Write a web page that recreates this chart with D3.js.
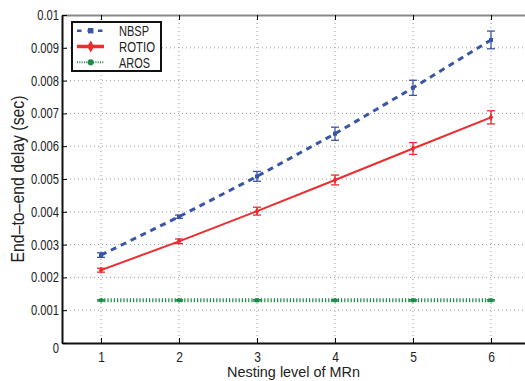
<!DOCTYPE html>
<html>
<head>
<meta charset="utf-8">
<script src="https://cdn.jsdelivr.net/npm/d3@7"></script>
<style>
  body { margin: 0; background: #fff; }
  svg { display: block; font-family: "Liberation Sans", Arial, sans-serif; }
</style>
</head>
<body>
<svg id="chart" width="525" height="381"></svg>
<script>
// chart data
const levels = [1, 2, 3, 4, 5, 6];
const nbsp = [0.00268, 0.00385, 0.00508, 0.00638, 0.00778, 0.00924];
const nbspErr = [0.00007, 0.00005, 0.00015, 0.0002, 0.00023, 0.00027];
const rotio = [0.00222, 0.0031, 0.00402, 0.00497, 0.00593, 0.00688];
const rotioErr = [0.00006, 0.00007, 0.00012, 0.00015, 0.00018, 0.0002];
const aros = [0.0013, 0.0013, 0.0013, 0.0013, 0.0013, 0.0013];
const arosErr = [0.00002, 0.00002, 0.00002, 0.00002, 0.00002, 0.00002];
const yTicks = [0, 0.001, 0.002, 0.003, 0.004, 0.005, 0.006, 0.007, 0.008, 0.009, 0.01];
const yTickLabels = ["0", "0.001", "0.002", "0.003", "0.004", "0.005", "0.006", "0.007", "0.008", "0.009", "0.01"];

const plotL = 62, plotR = 530, plotT = 15, plotB = 343;
const narrow = 0.8; // the original font is a condensed one

const svg = d3.select("#chart");

const x = d3.scaleLinear().domain([0.5, 6.5]).range([plotL, plotR]);
const y = d3.scaleLinear().domain([0, 0.01]).range([plotB, plotT]);

function squeeze(sel, k) {
  sel.each(function () {
    const w = this.getComputedTextLength();
    d3.select(this).attr("textLength", w * k).attr("lengthAdjust", "spacingAndGlyphs");
  });
}

// dotted grid
const grid = svg.append("g").attr("stroke", "#9a9a9a").attr("stroke-width", 1).attr("stroke-dasharray", "1,3");
grid.selectAll(".gx").data(levels).enter().append("line")
  .attr("x1", d => x(d)).attr("x2", d => x(d))
  .attr("y1", plotT).attr("y2", plotB);
grid.selectAll(".gy").data(yTicks.slice(1, -1)).enter().append("line")
  .attr("x1", plotL).attr("x2", plotR)
  .attr("y1", d => y(d)).attr("y2", d => y(d));

// axes
svg.append("g")
  .attr("transform", "translate(0," + plotB + ")")
  .call(d3.axisBottom(x).tickValues(levels).tickFormat(d3.format("d")).tickSizeInner(-5).tickSizeOuter(0).tickPadding(8))
  .call(g => g.select(".domain").attr("stroke-width", 2).attr("stroke", "#111"))
  .call(g => g.selectAll("text").attr("font-size", 15).attr("fill", "#222").attr("font-family", null))
  .call(g => squeeze(g.selectAll("text"), narrow));

svg.append("g")
  .attr("transform", "translate(0," + plotT + ")")
  .call(d3.axisTop(x).tickValues(levels).tickSizeInner(-5).tickSizeOuter(0).tickFormat(""))
  .call(g => g.select(".domain").attr("stroke-width", 2).attr("stroke", "#888"));

svg.append("g")
  .attr("transform", "translate(" + plotL + ",0)")
  .call(d3.axisLeft(y).tickValues(yTicks).tickSizeInner(-5).tickSizeOuter(0).tickPadding(3)
    .tickFormat((d, i) => yTickLabels[i]))
  .call(g => g.select(".domain").attr("stroke-width", 2).attr("stroke", "#111"))
  .call(g => g.selectAll("text").attr("font-size", 14).attr("fill", "#222").attr("font-family", null))
  .call(g => g.selectAll("text").filter(d => d === 0).attr("dy", "0.7em"))
  .call(g => squeeze(g.selectAll("text"), narrow));

// axis titles
svg.append("text")
  .attr("x", (plotL + 525) / 2).attr("y", 377)
  .attr("text-anchor", "middle").attr("font-size", 15).attr("fill", "#222")
  .attr("textLength", 133).attr("lengthAdjust", "spacingAndGlyphs")
  .text("Nesting level of MRn");

svg.append("text")
  .attr("transform", "translate(24," + (plotT + plotB) / 2 + ") rotate(-90)")
  .attr("text-anchor", "middle").attr("font-size", 18).attr("fill", "#222")
  .attr("textLength", 167).attr("lengthAdjust", "spacingAndGlyphs")
  .text("End\u2013to\u2013end delay (sec)");

const series = [
  {name: "NBSP", vals: nbsp, err: nbspErr, color: "#3a55a6", width: 3, dash: "6,5", marker: "square", labelW: 30},
  {name: "ROTIO", vals: rotio, err: rotioErr, color: "#ee2b2e", width: 2, dash: null, marker: "diamond", labelW: 36},
  {name: "AROS", vals: aros, err: arosErr, color: "#1e8c47", width: 4, dash: "1.2,2", marker: "circle", labelW: 31}
];

const line = d3.line().x(d => x(d[0])).y(d => y(d[1]));
const symOf = m => m === "square" ? d3.symbolSquare : m === "diamond" ? d3.symbolDiamond : d3.symbolCircle;

series.forEach(s => {
  const pts = levels.map((l, i) => [l, s.vals[i], s.err[i]]);
  const g = svg.append("g");

  // error bars
  const eb = g.selectAll(".eb").data(pts).enter().append("g").attr("stroke", s.color).attr("stroke-width", 1.3);
  eb.append("line").attr("x1", d => x(d[0])).attr("x2", d => x(d[0]))
    .attr("y1", d => y(d[1] - d[2])).attr("y2", d => y(d[1] + d[2]));
  eb.append("line").attr("x1", d => x(d[0]) - 4).attr("x2", d => x(d[0]) + 4)
    .attr("y1", d => y(d[1] - d[2])).attr("y2", d => y(d[1] - d[2]));
  eb.append("line").attr("x1", d => x(d[0]) - 4).attr("x2", d => x(d[0]) + 4)
    .attr("y1", d => y(d[1] + d[2])).attr("y2", d => y(d[1] + d[2]));

  g.append("path").datum(pts)
    .attr("d", line)
    .attr("fill", "none")
    .attr("stroke", s.color)
    .attr("stroke-width", s.width)
    .attr("stroke-dasharray", s.dash);

  g.selectAll(".m").data(pts).enter().append("path")
    .attr("transform", d => "translate(" + x(d[0]) + "," + y(d[1]) + ")")
    .attr("d", d3.symbol().type(symOf(s.marker)).size(16))
    .attr("fill", s.color);
});

// legend
const lg = svg.append("g").attr("transform", "translate(72,22)");
lg.append("rect").attr("width", 89).attr("height", 49)
  .attr("fill", "#fff").attr("stroke", "#111").attr("stroke-width", 2);
series.forEach((s, i) => {
  const yy = 8.7 + i * 15.8;
  lg.append("line").attr("x1", 5).attr("x2", 32).attr("y1", yy).attr("y2", yy)
    .attr("stroke", s.color)
    .attr("stroke-width", s.name === "ROTIO" ? 3.5 : s.name === "AROS" ? 2 : 2.5)
    .attr("stroke-dasharray", s.name === "NBSP" ? "4.5,6" : s.name === "AROS" ? "1,1.3" : null);
  lg.append("path").attr("transform", "translate(18.7," + yy + ")")
    .attr("d", d3.symbol().type(symOf(s.marker)).size(s.marker === "diamond" ? 40 : 30))
    .attr("fill", s.color);
  lg.append("text").attr("x", 47).attr("y", yy + 5.3)
    .attr("font-size", 15).attr("fill", "#222")
    .attr("textLength", s.labelW).attr("lengthAdjust", "spacingAndGlyphs")
    .text(s.name);
});
</script>
</body>
</html>
